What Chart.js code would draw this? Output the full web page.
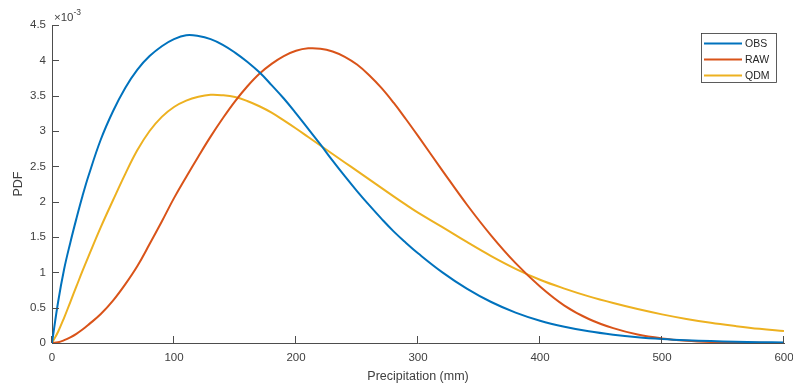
<!DOCTYPE html>
<html>
<head>
<meta charset="utf-8">
<script src="https://cdn.jsdelivr.net/npm/chart.js@4"></script>
<style>
  html, body { margin: 0; padding: 0; background: #fff; }
  #wrap { width: 793px; height: 388px; position: relative; }
</style>
</head>
<body>
<div id="wrap"><canvas id="chart"></canvas></div>
<script>
// precipitation grid (mm)
const precipX = [0, 5, 10, 15, 20, 25, 30, 40, 50, 60, 70, 80, 90, 100, 110, 120, 130, 140, 150, 160,
  170, 180, 190, 200, 210, 220, 230, 240, 250, 260, 270, 280, 290, 300, 320, 340, 360, 380, 400, 420,
  440, 460, 480, 500, 520, 540, 560, 580, 600];

// PDF values, in units of 1e-3
const obsPdf = [0, 0.58, 1.05, 1.42, 1.76, 2.08, 2.37, 2.88, 3.28, 3.61, 3.87, 4.06, 4.20, 4.30, 4.355, 4.345,
  4.30, 4.22, 4.11, 3.98, 3.83, 3.65, 3.46, 3.25, 3.03, 2.81, 2.58, 2.36, 2.15, 1.95, 1.76, 1.58, 1.42, 1.27,
  1.00, 0.77, 0.58, 0.43, 0.315, 0.23, 0.165, 0.118, 0.083, 0.058, 0.04, 0.027, 0.018, 0.012, 0.008];
const rawPdf = [0, 0.01, 0.04, 0.08, 0.13, 0.19, 0.26, 0.41, 0.60, 0.83, 1.09, 1.40, 1.72, 2.05, 2.35, 2.64,
  2.92, 3.18, 3.42, 3.63, 3.81, 3.95, 4.06, 4.135, 4.17, 4.165, 4.125, 4.05, 3.94, 3.79, 3.61, 3.40, 3.17, 2.93,
  2.44, 1.96, 1.52, 1.13, 0.80, 0.53, 0.34, 0.21, 0.12, 0.065, 0.032, 0.014, 0.006, 0.002, 0.001];
const qdmPdf = [0, 0.16, 0.36, 0.58, 0.80, 1.02, 1.23, 1.64, 2.02, 2.39, 2.73, 3.00, 3.20, 3.34, 3.43, 3.485,
  3.512, 3.505, 3.48, 3.425, 3.35, 3.26, 3.15, 3.035, 2.915, 2.795, 2.675, 2.555, 2.435, 2.315, 2.195, 2.075, 1.958, 1.845,
  1.64, 1.43, 1.23, 1.05, 0.895, 0.77, 0.66, 0.565, 0.48, 0.405, 0.34, 0.285, 0.24, 0.20, 0.168];

const seriesNames = ['OBS', 'RAW', 'QDM'];
const seriesColors = ['#0072BD', '#D95319', '#EDB120'];

const xTicks = [0, 100, 200, 300, 400, 500, 600];
const yTicks = [0, 0.5, 1, 1.5, 2, 2.5, 3, 3.5, 4, 4.5];
const yTickLabels = ['0', '0.5', '1', '1.5', '2', '2.5', '3', '3.5', '4', '4.5'];

const FONT = '"Liberation Sans", Arial, Helvetica, sans-serif';
const AXIS_COLOR = '#4d4d4d';
const TEXT_COLOR = '#404040';

function toPoints(ys) {
  return precipX.map((x, i) => ({ x: x, y: ys[i] }));
}

// inward tick marks, exponent label and boxed legend (MATLAB look)
const matlabBits = {
  id: 'matlabBits',
  afterDraw(chart) {
    const ctx = chart.ctx;
    const area = chart.chartArea;
    const xs = chart.scales.x;
    const ys = chart.scales.y;
    const len = 7;

    ctx.save();
    ctx.strokeStyle = AXIS_COLOR;
    ctx.lineWidth = 1;
    ctx.beginPath();
    xTicks.forEach(v => {
      const px = Math.round(xs.getPixelForValue(v)) - 0.5;
      ctx.moveTo(px, area.bottom);
      ctx.lineTo(px, area.bottom - len);
    });
    yTicks.forEach(v => {
      const py = Math.round(ys.getPixelForValue(v)) + 0.5;
      ctx.moveTo(area.left, py);
      ctx.lineTo(area.left + len, py);
    });
    ctx.stroke();

    // x10^-3 above the y axis
    ctx.fillStyle = TEXT_COLOR;
    ctx.textBaseline = 'alphabetic';
    ctx.textAlign = 'left';
    ctx.font = '11.5px ' + FONT;
    ctx.fillText('\u00d710', area.left + 2, area.top - 4);
    const w = ctx.measureText('\u00d710').width;
    ctx.font = '8.5px ' + FONT;
    ctx.fillText('-3', area.left + 2 + w, area.top - 10);

    // legend
    const box = { left: 701.5, top: 33.5, right: 776.5, bottom: 82.5 };
    ctx.fillStyle = '#fff';
    ctx.fillRect(box.left, box.top, box.right - box.left, box.bottom - box.top);
    ctx.strokeStyle = '#333';
    ctx.lineWidth = 0.8;
    ctx.strokeRect(box.left, box.top, box.right - box.left, box.bottom - box.top);
    ctx.font = '10.5px ' + FONT;
    ctx.textBaseline = 'middle';
    seriesNames.forEach((name, i) => {
      const y = 43.5 + i * 16;
      ctx.strokeStyle = seriesColors[i];
      ctx.lineWidth = 2;
      ctx.beginPath();
      ctx.moveTo(704, y);
      ctx.lineTo(742, y);
      ctx.stroke();
      ctx.fillStyle = '#262626';
      ctx.fillText(name, 745, y + 0.5);
    });
    ctx.restore();
  }
};

const datasets = [obsPdf, rawPdf, qdmPdf].map((ys, i) => ({
  label: seriesNames[i],
  data: toPoints(ys),
  borderColor: seriesColors[i],
  backgroundColor: seriesColors[i],
  borderWidth: 2,
  pointRadius: 0,
  fill: false,
  tension: 0.4
}));

new Chart(document.getElementById('chart'), {
  type: 'line',
  data: { datasets: datasets },
  options: {
    responsive: true,
    maintainAspectRatio: false,
    animation: false,
    layout: { padding: { top: 25, right: 9, left: 0, bottom: 0 } },
    plugins: {
      legend: { display: false },
      tooltip: { enabled: false }
    },
    scales: {
      x: {
        type: 'linear',
        min: 0,
        max: 600,
        afterBuildTicks: s => { s.ticks = xTicks.map(v => ({ value: v })); },
        afterFit: s => { s.height = 45; s.paddingLeft = 0; s.paddingRight = 0; },
        grid: { display: false, drawTicks: false },
        border: { display: true, color: AXIS_COLOR, width: 1 },
        ticks: { color: TEXT_COLOR, font: { family: FONT, size: 11.5 }, padding: 8, maxRotation: 0 },
        title: {
          display: true,
          text: 'Precipitation (mm)',
          color: TEXT_COLOR,
          font: { family: FONT, size: 12.5 },
          padding: { top: 0, bottom: 4 }
        }
      },
      y: {
        type: 'linear',
        min: 0,
        max: 4.5,
        afterBuildTicks: s => { s.ticks = yTicks.map(v => ({ value: v })); },
        afterFit: s => { s.width = 52; s.paddingTop = 0; s.paddingBottom = 0; },
        grid: { display: false, drawTicks: false },
        border: { display: true, color: AXIS_COLOR, width: 1 },
        ticks: {
          color: TEXT_COLOR,
          font: { family: FONT, size: 11.5 },
          padding: 6,
          callback: v => yTickLabels[yTicks.indexOf(v)]
        },
        title: {
          display: true,
          text: 'PDF',
          color: TEXT_COLOR,
          font: { family: FONT, size: 12.5 },
          padding: { top: 11, bottom: 0 }
        }
      }
    }
  },
  plugins: [matlabBits]
});
</script>
</body>
</html>
